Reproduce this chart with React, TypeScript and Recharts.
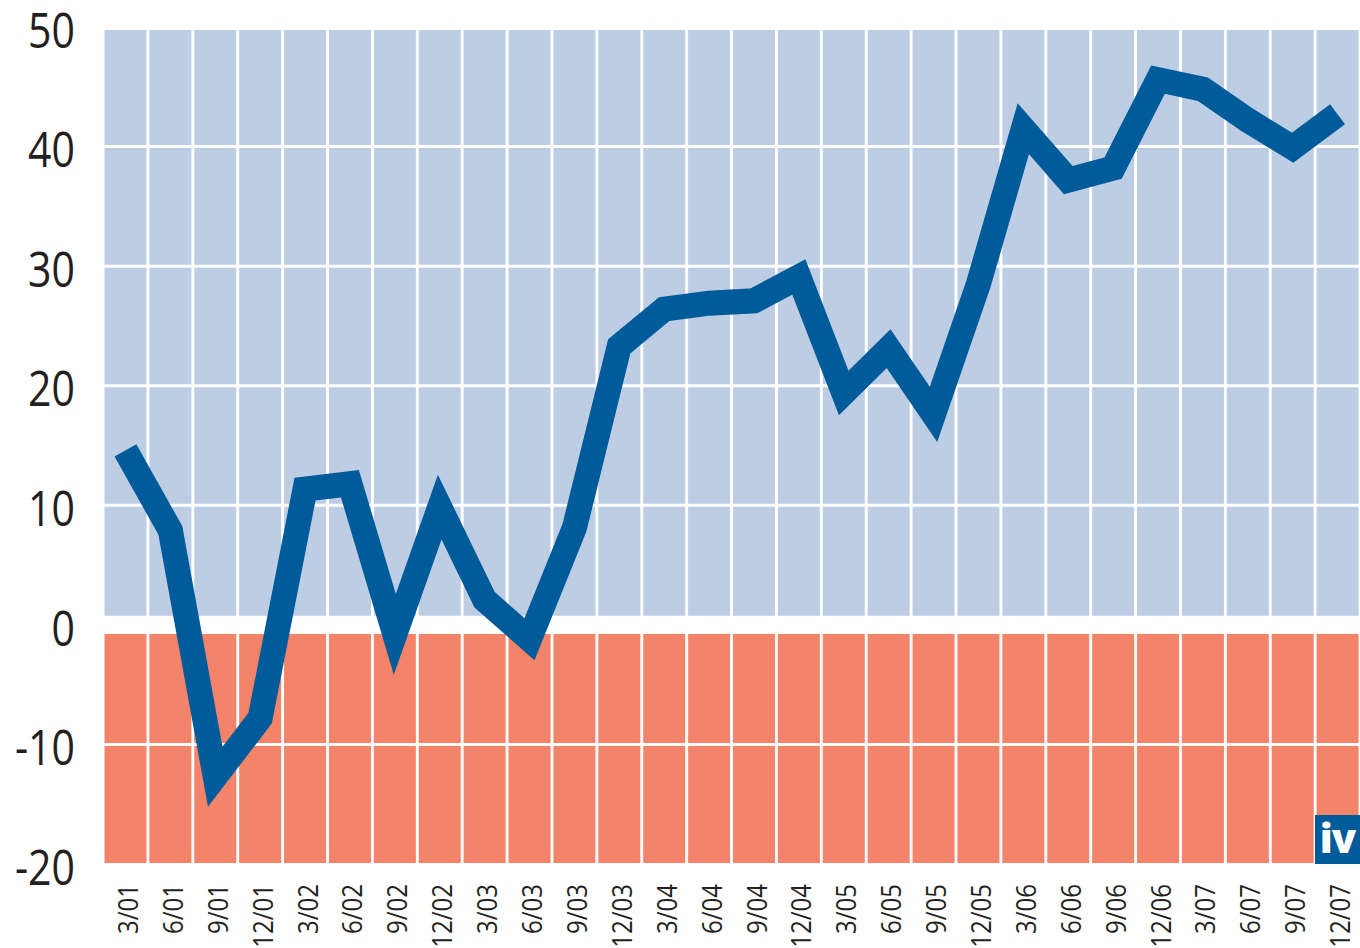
import React from 'react';
import { ComposedChart, Bar, Line, XAxis, YAxis, ReferenceLine } from 'recharts';

const categories = ['3/01', '6/01', '9/01', '12/01', '3/02', '6/02', '9/02', '12/02', '3/03', '6/03', '9/03', '12/03', '3/04', '6/04', '9/04', '12/04', '3/05', '6/05', '9/05', '12/05', '3/06', '6/06', '9/06', '12/06', '3/07', '6/07', '9/07', '12/07'];
const values = [14.6, 7.9, -12.7, -7.8, 11.35, 11.8, -0.8, 9.85, 2.1, -1.2, 8.1, 23.3, 26.4, 26.9, 27.1, 29.1, 19.4, 23.1, 17.6, 28.5, 41.5, 37.2, 38.2, 45.6, 44.8, 42.2, 39.9, 42.7];
const yTicks = [-20, -10, 0, 10, 20, 30, 40, 50];
const gridValues = [-10, 10, 20, 30, 40];
const positiveBand: [number, number] = [0.77, 49.75];
const negativeBand: [number, number] = [-19.92, -0.77];

const data = categories.map((c, i) => ({
  period: c,
  value: values[i],
  pos: positiveBand,
  neg: negativeBand,
}));

const FONT = '"Open Sans", "Noto Sans", sans-serif';

const YTick = (props: any) => {
  const { x, y, payload } = props;
  return (
    <g transform={`translate(${x},${y + 1})`}>
      <text
        transform="scale(0.82,1)"
        textAnchor="end"
        dominantBaseline="central"
        fontFamily={FONT}
        fontSize={50}
        fontWeight={500}
        fill="#231f20"
      >
        {payload.value}
      </text>
    </g>
  );
};

const XTick = (props: any) => {
  const { x, y, payload } = props;
  return (
    <g transform={`translate(${x + 2},${y})`}>
      <text
        transform="rotate(-90) scale(0.89,1)"
        textAnchor="end"
        dominantBaseline="central"
        fontFamily={FONT}
        fontSize={27}
        fontWeight={500}
        fill="#231f20"
      >
        {payload.value}
      </text>
    </g>
  );
};

export default function App() {
  return (
    <div style={{ position: 'absolute', left: 0, top: 0, width: 1360, height: 948 }}>
      <ComposedChart
        width={1360}
        height={948}
        data={data}
        margin={{ top: 27, right: 0, bottom: 0, left: 0 }}
        barCategoryGap={1.5}
        barGap={0}
      >
        <XAxis
          xAxisId="main"
          dataKey="period"
          height={84}
          interval={0}
          tickLine={false}
          axisLine={false}
          tickSize={0}
          tickMargin={20}
          tick={<XTick />}
        />
        <XAxis xAxisId="second" dataKey="period" hide />
        <YAxis
          domain={[-20, 50]}
          ticks={yTicks}
          width={103}
          interval={0}
          tickLine={false}
          axisLine={false}
          tickSize={0}
          tickMargin={28}
          tick={<YTick />}
          allowDataOverflow
        />
        <Bar xAxisId="main" dataKey="pos" fill="#bdcde4" isAnimationActive={false} />
        <Bar xAxisId="second" dataKey="neg" fill="#f48469" isAnimationActive={false} />
        {gridValues.map((g) => (
          <ReferenceLine key={g} xAxisId="main" y={g} stroke="#ffffff" strokeWidth={3} />
        ))}
        <Line
          xAxisId="main"
          type="linear"
          dataKey="value"
          stroke="#005b9a"
          strokeWidth={25}
          strokeLinejoin="miter"
          strokeLinecap="butt"
          strokeMiterlimit={10}
          dot={false}
          activeDot={false}
          isAnimationActive={false}
        />
      </ComposedChart>
      <div
        style={{
          position: 'absolute',
          left: 1315,
          top: 815,
          width: 45,
          height: 49,
          background: '#005b9a',
          color: '#ffffff',
          fontFamily: FONT,
          fontWeight: 800,
          fontSize: 40,
          lineHeight: '46px',
          textAlign: 'center',
          letterSpacing: -1,
        }}
      >
        iv
      </div>
    </div>
  );
}
